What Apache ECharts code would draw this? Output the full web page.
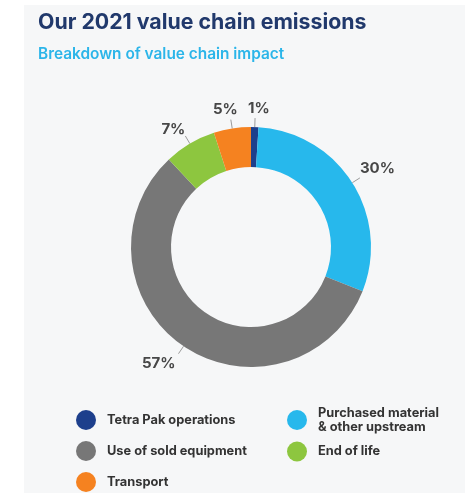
<!DOCTYPE html>
<html>
<head>
<meta charset="utf-8">
<script src="https://cdn.jsdelivr.net/npm/echarts@6/dist/echarts.min.js"></script>
<style>
  html, body { margin: 0; padding: 0; background: #ffffff; }
  #panel { position: absolute; left: 24px; top: 5px; width: 441px; height: 488px; background: #f6f7f8; }
  #chart { position: absolute; left: 0; top: 0; width: 472px; height: 493px; }
</style>
</head>
<body>
<div id="panel"></div>
<div id="chart"></div>
<script>
// Value chain emission shares, in percent
const categories = [
  'Tetra Pak operations',
  'Purchased material\n& other upstream',
  'Use of sold equipment',
  'End of life',
  'Transport'
];
const shares = [1, 30, 57, 7, 5];
const colors = ['#1d3f8c', '#27b8ec', '#777777', '#8dc63f', '#f58220'];

// Legend columns (row-major reading order across two columns)
const legendLeftColumn = [categories[0], categories[2], categories[4]];
const legendRightColumn = [categories[1], categories[3]];

// Per-label nudges so each percentage sits at the end of its leader line
const labelShift = [[-12, -10], [-5, -9], [2, 10], [5, -6], [12, -10]];

const FONT = 'Inter';

const chart = echarts.init(document.getElementById('chart'), null, { renderer: 'canvas' });

const legendText = {
  fontFamily: FONT, fontWeight: 'bold', fontSize: 12.8, color: '#333333', lineHeight: 13.5
};

chart.setOption({
  backgroundColor: 'transparent',
  color: colors,
  title: [
    {
      text: 'Our 2021 value chain emissions',
      left: 38, top: 12, padding: 0,
      textStyle: { fontFamily: FONT, fontWeight: 'bold', fontSize: 21.3, color: '#21396c' }
    },
    {
      text: 'Breakdown of value chain impact',
      left: 38, top: 47, padding: 0,
      textStyle: { fontFamily: FONT, fontWeight: 600, fontSize: 15.4, color: '#2bb5e9' }
    }
  ],
  legend: [
    {
      orient: 'vertical', left: 76, top: 410, padding: 0,
      icon: 'circle', itemWidth: 32, itemHeight: 20, itemGap: 11,
      data: legendLeftColumn, textStyle: legendText, selectedMode: false
    },
    {
      orient: 'vertical', left: 287, top: 406.5, padding: 0,
      icon: 'circle', itemWidth: 32, itemHeight: 20, itemGap: 8,
      data: legendRightColumn, textStyle: legendText, selectedMode: false
    }
  ],
  series: [{
    type: 'pie',
    center: [251, 247],
    radius: [80, 120],
    startAngle: 90,
    clockwise: true,
    avoidLabelOverlap: false,
    silent: true,
    data: categories.map((name, i) => ({ name, value: shares[i] })),
    label: {
      show: true,
      position: 'outside',
      formatter: (p) => p.value + '%',
      fontFamily: FONT, fontWeight: 'bold', fontSize: 15, color: '#474747'
    },
    labelLine: {
      show: true, length: 9, length2: 0,
      lineStyle: { color: '#9a9a9a', width: 1 }
    },
    labelLayout: (params) => {
      const s = labelShift[params.dataIndex];
      return { dx: s[0], dy: s[1] };
    }
  }]
});
</script>
</body>
</html>
